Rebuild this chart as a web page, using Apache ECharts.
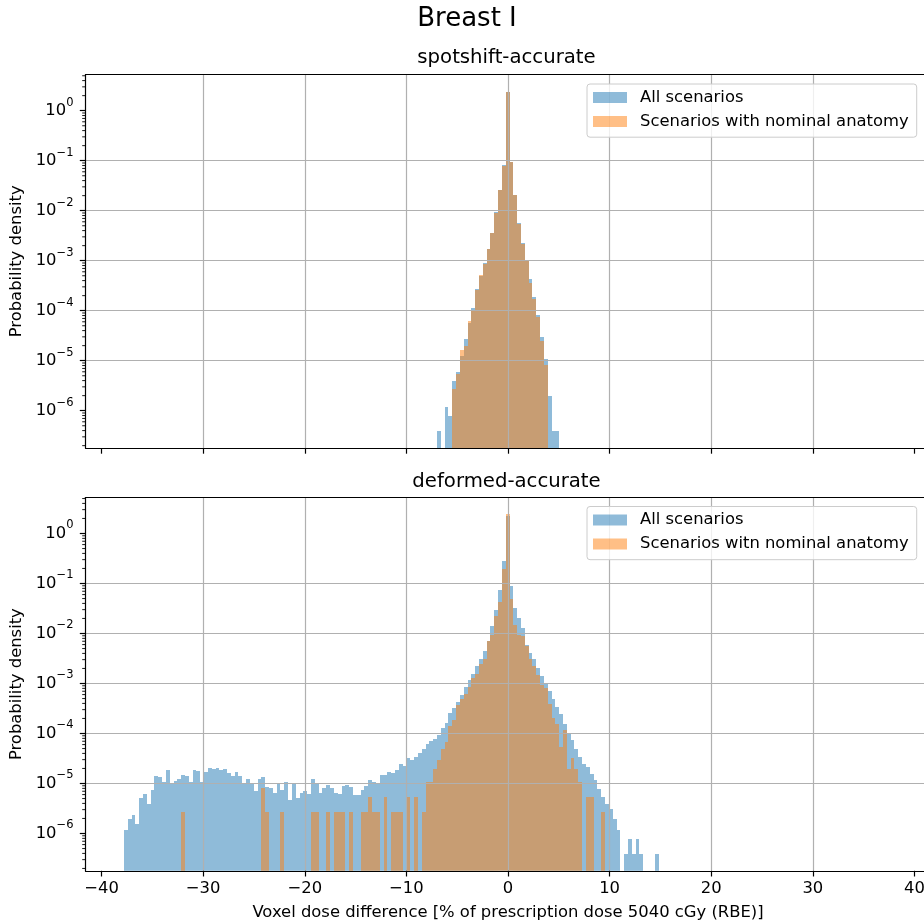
<!DOCTYPE html>
<html>
<head>
<meta charset="utf-8">
<title>Breast I</title>
<script src="https://cdn.jsdelivr.net/npm/echarts@6/dist/echarts.min.js"></script>
<style>
  html, body { margin: 0; padding: 0; background: #ffffff; }
  #chart { width: 924px; height: 924px; }
</style>
</head>
<body>
<div id="chart"></div>
<script>
// Histogram bins shared by both panels (voxel dose difference, % of prescription)
const binStart = -37.8;
const binWidth = 0.3758;

// spotshift-accurate: probability densities, first entry is bin 82 / bin 86
const spotshiftAllFirstBin = 82;
const spotshiftAll = [
  3.92e-7, 0, 1.18e-6, 7.8e-7, 3.92e-6, 5.93e-6, 1.24e-5, 2.71e-5, 5.66e-5, 1.13e-4,
  2.71e-4, 4.93e-4, 8.98e-4, 1.71e-3, 3.57e-3, 9.4e-3, 0.0259, 0.0819, 2.36, 0.0955,
  0.0206, 5.66e-3, 2.25e-3, 9.8e-4, 4.3e-4, 1.88e-4, 8.2e-5, 2.97e-5, 1.08e-5, 1.96e-6,
  3.92e-7, 3.92e-7
];
const spotshiftNominalFirstBin = 86;
const spotshiftNominal = [
  2.71e-6, 5.4e-6, 1.63e-5, 1.96e-5, 6.2e-5, 1.03e-4, 2.6e-4, 5.1e-4, 8.6e-4, 1.71e-3,
  3.57e-3, 9.0e-3, 0.0259, 0.078, 2.4, 0.0955, 0.0206, 5.4e-3, 2.15e-3, 9.8e-4,
  3.6e-4, 1.7e-4, 7.4e-5, 2.47e-5, 8.2e-6
];

// deformed-accurate: probability densities for all 140 bins
const deformedAll = [
  1.18e-6, 1.97e-6, 2.36e-6, 1.56e-6, 5.17e-6, 6.2e-6, 3.92e-6, 7.47e-6, 1.42e-5, 1.36e-5,
  1.08e-5, 1.87e-5, 9.8e-6, 1.13e-5, 1.24e-5, 1.49e-5, 1.42e-5, 1.08e-5, 1.87e-5, 1.79e-5,
  1.08e-5, 1.71e-5, 2.06e-5, 1.96e-5, 2.06e-5, 1.87e-5, 1.96e-5, 1.63e-5, 1.42e-5, 1.71e-5,
  1.42e-5, 1.03e-5, 1.24e-5, 1.03e-5, 7.1e-6, 1.24e-5, 1.36e-5, 8.6e-6, 8.2e-6, 6.5e-6,
  9.8e-6, 7.5e-6, 1.08e-5, 4.7e-6, 9.8e-6, 5.2e-6, 6.5e-6, 7.1e-6, 6.2e-6, 1.24e-5,
  9.8e-6, 6.5e-6, 8.2e-6, 9.4e-6, 8.2e-6, 6.5e-6, 6.2e-6, 8.9e-6, 9.4e-6, 8.6e-6,
  5.9e-6, 5.9e-6, 7.5e-6, 8.9e-6, 1.18e-5, 1.08e-5, 9.8e-6, 1.49e-5, 1.49e-5, 1.71e-5,
  1.6e-5, 1.87e-5, 2.47e-5, 2.25e-5, 3.26e-5, 2.97e-5, 3.4e-5, 4.1e-5, 4.93e-5, 6.2e-5,
  7.0e-5, 7.8e-5, 9.4e-5, 1.3e-4, 1.63e-4, 2.59e-4, 3.26e-4, 4.3e-4, 5.93e-4, 8.6e-4,
  1.18e-3, 1.56e-3, 2.26e-3, 3.11e-3, 4.5e-3, 7.1e-3, 1.42e-2, 2.97e-2, 7.5e-2, 0.284,
  2.26, 0.0898, 0.0326, 0.0206, 0.013, 5.93e-3, 4.1e-3, 3.11e-3, 2.06e-3, 1.42e-3,
  9.8e-4, 7.1e-4, 4.93e-4, 3.41e-4, 2.47e-4, 1.56e-4, 9.8e-5, 7.5e-5, 4.93e-5, 3.41e-5,
  2.47e-5, 2.15e-5, 1.56e-5, 1.18e-5, 7.8e-6, 5.4e-6, 3.92e-6, 3.11e-6, 1.96e-6, 1.18e-6,
  0, 3.92e-7, 7.8e-7, 3.92e-7, 7.8e-7, 3.92e-7, 0, 0, 0, 3.92e-7
];
const deformedNominal = [
  0, 0, 0, 0, 0, 0, 0, 0, 0, 0,
  0, 0, 0, 0, 0, 2.7e-6, 0, 0, 0, 0,
  0, 0, 0, 0, 0, 0, 0, 0, 0, 0,
  0, 0, 0, 0, 0, 0, 8.1e-6, 2.7e-6, 0, 0,
  0, 2.7e-6, 0, 0, 0, 0, 0, 0, 0, 2.7e-6,
  2.7e-6, 0, 0, 2.7e-6, 0, 2.7e-6, 2.7e-6, 2.7e-6, 0, 2.7e-6,
  0, 0, 2.7e-6, 2.7e-6, 5.4e-6, 2.7e-6, 2.7e-6, 0, 5.4e-6, 0,
  2.7e-6, 2.7e-6, 2.7e-6, 0, 5.4e-6, 0, 5.4e-6, 0, 2.7e-6, 1.08e-5,
  1.08e-5, 1.96e-5, 2.97e-5, 4.93e-5, 6.8e-5, 1.42e-4, 1.88e-4, 3.74e-4, 4.93e-4, 6.2e-4,
  8.6e-4, 1.3e-3, 1.56e-3, 2.47e-3, 3.11e-3, 7.1e-3, 9.4e-3, 0.0225, 0.043, 0.196,
  2.4, 0.0493, 0.0149, 9.4e-3, 8.98e-3, 5.66e-3, 3.11e-3, 2.25e-3, 1.49e-3, 9.4e-4,
  8.2e-4, 3.92e-4, 2.06e-4, 1.56e-4, 5.4e-5, 1.18e-4, 1.96e-5, 3.26e-5, 1.96e-5, 1.08e-5,
  0, 5.4e-6, 5.4e-6, 0, 0, 2.7e-6, 0, 0, 0, 0,
  0, 0, 0, 0, 0, 0, 0, 0, 0, 0
];

// Tick labels
const xTicks = [-40, -30, -20, -10, 0, 10, 20, 30, 40];
const yTicks = [1e-6, 1e-5, 1e-4, 1e-3, 1e-2, 1e-1, 1];

const FONT = '"DejaVu Sans", "Liberation Sans", sans-serif';
const BLUE = 'rgba(31, 119, 180, 0.5)';
const ORANGE = 'rgba(255, 127, 14, 0.5)';

// Axis ranges (the symmetric x range runs a little past the right edge of the canvas)
const X_MIN = -41.58, X_MAX = 41.58;
const Y_MIN = Math.pow(10, -6.746), Y_MAX = Math.pow(10, 0.72);

// Minor ticks of the log axis (2..9 times each decade)
const minorTickValues = [];
for (let k = -7; k <= 0; k++) {
  for (let m = 2; m <= 9; m++) {
    const v = m * Math.pow(10, k);
    if (v > Y_MIN && v < Y_MAX) minorTickValues.push(v);
  }
}

function histData(values, firstBin) {
  const out = [];
  values.forEach((v, i) => {
    if (v > 0) {
      const b = firstBin + i;
      out.push([binStart + b * binWidth, binStart + (b + 1) * binWidth, v]);
    }
  });
  return out;
}

// One histogram bar: edges snapped to whole pixels so neighbouring bars join cleanly
function renderBin(params, api) {
  const top = api.coord([api.value(0), api.value(2)]);
  const base = api.coord([api.value(1), Y_MIN]);
  const x0 = Math.round(top[0]);
  const x1 = Math.round(base[0]);
  const y0 = Math.round(top[1]);
  const cs = params.coordSys;
  const shape = echarts.graphic.clipRectByRect(
    { x: x0, y: y0, width: x1 - x0, height: base[1] - y0 },
    { x: cs.x, y: cs.y, width: cs.width, height: cs.height }
  );
  return shape && { type: 'rect', shape: shape, style: { fill: api.visual('color') } };
}

function renderMinorTick(params, api) {
  const p = api.coord([api.value(0), api.value(1)]);
  return {
    type: 'line',
    shape: { x1: p[0] - 3.3, y1: p[1], x2: p[0], y2: p[1] },
    style: { stroke: '#000', lineWidth: 0.9 }
  };
}

function fmtX(v) {
  return v < 0 ? '\u2212' + Math.abs(v) : String(v);
}
function fmtY(v) {
  const e = Math.round(Math.log10(v));
  const s = e < 0 ? '\u2212' + Math.abs(e) : String(e);
  return '{b|10}{s|' + s + '}';
}

const SPINE = { color: '#000', width: 1.2 };
const GRIDLINE = { color: '#b0b0b0', width: 1.2 };

const gridTops = [74.7, 497.5];
const grids = gridTops.map(t => ({
  left: 85.5, top: t, width: 845, height: 373.3,
  outerBoundsMode: 'none', containLabel: false
}));

// Bottom x axes (ticks, grid lines, labels) plus a bare top spine for each panel
const xAxes = [0, 1].map(i => ({
  type: 'value', gridIndex: i, position: 'bottom', min: X_MIN, max: X_MAX, splitNumber: 8, z: 5,
  axisLine: { show: true, onZero: false, lineStyle: SPINE },
  axisTick: { show: true, customValues: xTicks, length: 5.7, lineStyle: SPINE },
  axisLabel: {
    show: i === 1, customValues: xTicks, formatter: fmtX, margin: 10,
    color: '#000', fontSize: 16.4, fontFamily: FONT
  },
  splitLine: { show: true, showMinLine: false, showMaxLine: false, lineStyle: GRIDLINE },
  name: i === 1 ? 'Voxel dose difference [% of prescription dose 5040 cGy (RBE)]' : '',
  nameLocation: 'middle', nameGap: 34,
  nameTextStyle: { color: '#000', fontSize: 16.4, fontFamily: FONT }
})).concat([0, 1].map(i => ({
  type: 'value', gridIndex: i, position: 'top', min: X_MIN, max: X_MAX, z: 5,
  axisLine: { show: true, onZero: false, lineStyle: SPINE },
  axisTick: { show: false }, axisLabel: { show: false }, splitLine: { show: false }
})));

const yAxes = [0, 1].map(i => ({
  type: 'log', logBase: 10, gridIndex: i, min: Y_MIN, max: Y_MAX, splitNumber: 7, z: 5,
  axisLine: { show: true, onZero: false, lineStyle: SPINE },
  axisTick: { show: true, customValues: yTicks, length: 5.7, lineStyle: SPINE },
  axisLabel: {
    show: true, customValues: yTicks, formatter: fmtY, margin: 12,
    rich: {
      b: { fontSize: 16.4, lineHeight: 28, color: '#000', fontFamily: FONT },
      s: { fontSize: 11.5, lineHeight: 12, color: '#000', fontFamily: FONT, verticalAlign: 'top' }
    }
  },
  splitLine: { show: true, showMinLine: false, showMaxLine: false, lineStyle: GRIDLINE },
  name: 'Probability density', nameLocation: 'middle', nameGap: 54, nameRotate: 90,
  nameTextStyle: { color: '#000', fontSize: 16.4, fontFamily: FONT }
}));

function histSeries(name, color, values, firstBin, gridIdx) {
  return {
    type: 'custom', name: name, xAxisIndex: gridIdx, yAxisIndex: gridIdx,
    renderItem: renderBin, itemStyle: { color: color },
    dimensions: ['x0', 'x1', 'density'], encode: { x: [0, 1], y: 2 },
    data: histData(values, firstBin), z: 2, silent: true
  };
}

function minorTickSeries(gridIdx) {
  return {
    type: 'custom', xAxisIndex: gridIdx, yAxisIndex: gridIdx,
    renderItem: renderMinorTick, clip: false, silent: true, z: 7,
    encode: { x: 0, y: 1 },
    data: minorTickValues.map(v => [X_MIN, v])
  };
}

function legendFor(top, nominalName) {
  return {
    left: 587, top: top, orient: 'vertical', icon: 'rect', selectedMode: false,
    itemWidth: 34, itemHeight: 11, itemGap: 6,
    padding: [4.5, 8, 6.7, 6],
    backgroundColor: 'rgba(255,255,255,0.8)', borderColor: '#cccccc', borderWidth: 1, borderRadius: 3,
    textStyle: { color: '#000', fontSize: 16.4, lineHeight: 18, fontFamily: FONT, padding: [0, 0, 0, 8] },
    data: [
      { name: 'All scenarios', itemStyle: { color: BLUE } },
      { name: nominalName, itemStyle: { color: ORANGE } }
    ],
    z: 10
  };
}

function titleText(text, x, y, size) {
  return {
    type: 'text', x: x, y: y, z: 10,
    style: { text: text, fill: '#000', font: size + 'px ' + FONT, textAlign: 'center', textVerticalAlign: 'middle' }
  };
}

const chart = echarts.init(document.getElementById('chart'), null, { renderer: 'canvas' });
chart.setOption({
  animation: false,
  backgroundColor: '#ffffff',
  textStyle: { fontFamily: FONT },
  grid: grids,
  xAxis: xAxes,
  yAxis: yAxes,
  legend: [
    legendFor(84, 'Scenarios with nominal anatomy'),
    legendFor(506.5, 'Scenarios witn nominal anatomy')
  ],
  graphic: [
    titleText('Breast I', 467, 19, 26),
    titleText('spotshift-accurate', 506.5, 58, 19.7),
    titleText('deformed-accurate', 506.5, 482, 19.7)
  ],
  series: [
    histSeries('All scenarios', BLUE, spotshiftAll, spotshiftAllFirstBin, 0),
    histSeries('Scenarios with nominal anatomy', ORANGE, spotshiftNominal, spotshiftNominalFirstBin, 0),
    histSeries('All scenarios', BLUE, deformedAll, 0, 1),
    histSeries('Scenarios witn nominal anatomy', ORANGE, deformedNominal, 0, 1),
    minorTickSeries(0),
    minorTickSeries(1)
  ]
});
</script>
</body>
</html>
